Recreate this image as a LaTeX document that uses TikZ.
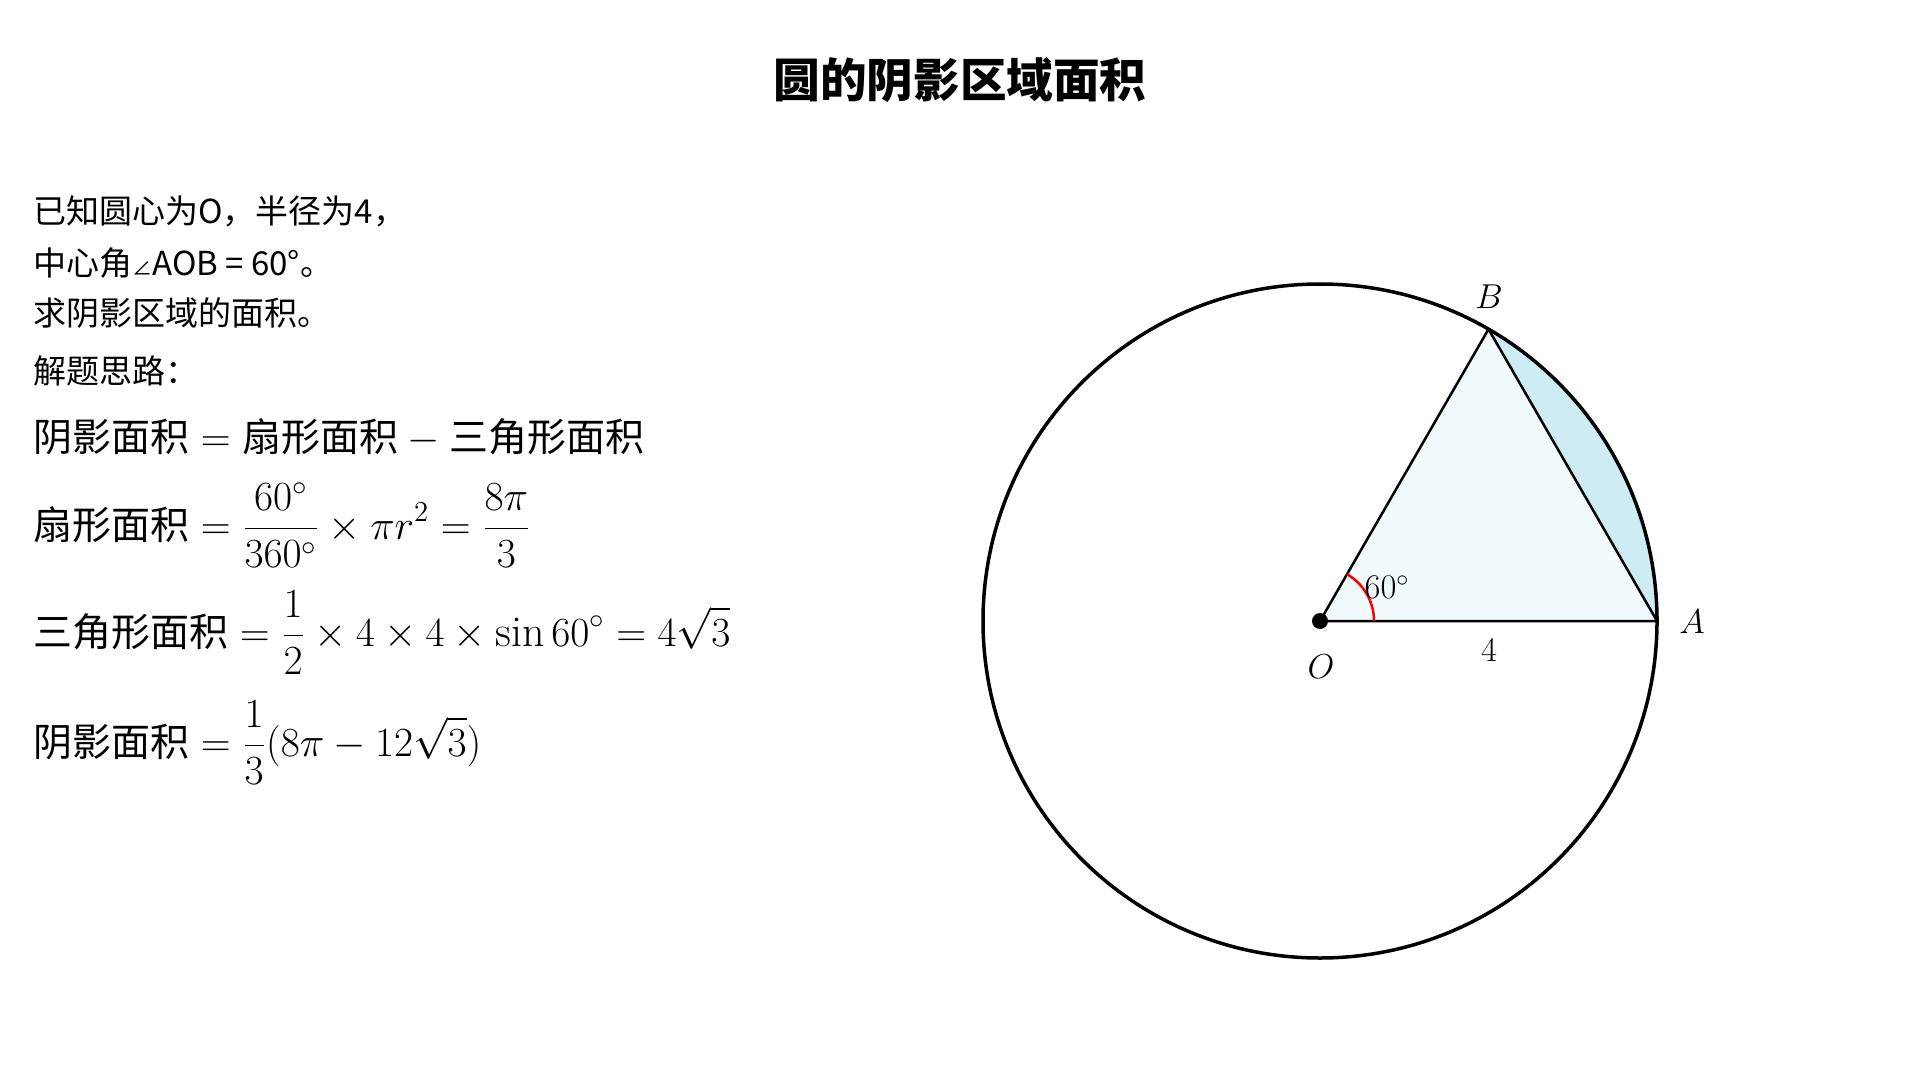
\documentclass[tikz,border=0pt]{standalone}
\usepackage{fontspec}
\usepackage{amsmath}
\usetikzlibrary{calc}
\newfontfamily\cjk{Noto Sans CJK SC}
\newcommand{\zh}[1]{\text{\cjk\fontsize{19.5pt}{23pt}\selectfont #1}}
\definecolor{segfill}{RGB}{205,236,243}
\definecolor{trifill}{RGB}{241,250,253}
\tikzset{
  titletxt/.style={inner sep=0pt, anchor=base, font=\cjk\bfseries\fontsize{23.3pt}{28pt}\selectfont},
  bodytxt/.style={inner sep=0pt, anchor=base west, font=\cjk\fontsize{16.5pt}{19pt}\selectfont},
  mathtxt/.style={inner sep=0pt, anchor=base west, font=\fontsize{22pt}{26pt}\selectfont},
  ptlabel/.style={inner sep=0pt, font=\fontsize{19pt}{23pt}\selectfont},
  smalllabel/.style={inner sep=0pt, font=\fontsize{17pt}{21pt}\selectfont},
  circleline/.style={line width=1.75pt, draw=black},
  edgeline/.style={line width=1.25pt, draw=black, line join=round},
  anglemark/.style={line width=1.25pt, draw=red},
}
\begin{document}
\begin{tikzpicture}[x=0.5pt,y=-0.5pt]
\useasboundingbox (0,0) rectangle (1920,1080);
\fill[white] (0,0) rectangle (1920,1080);

% title
\node[titletxt] (title) at (960,98) {圆的阴影区域面积};

% problem text
\node[bodytxt] (t1) at (33,224) {已知圆心为O，半径为4，};
\node[bodytxt] (t2) at (33,276) {中心角{\fontsize{10pt}{12pt}\selectfont ∠}AOB = 60°。};
\node[bodytxt] (t3) at (33,326) {求阴影区域的面积。};
\node[bodytxt] (t4) at (33,383) {解题思路：};

% formulas
\node[mathtxt] (m1) at (33,451) {$\zh{阴影面积} = \zh{扇形面积} - \zh{三角形面积}$};
\node[mathtxt] (m2) at (33,539) {$\displaystyle \zh{扇形面积} = \frac{60^\circ}{360^\circ}\times \pi r^2 = \frac{8\pi}{3}$};
\node[mathtxt] (m3) at (33,646) {$\displaystyle \zh{三角形面积} = \frac{1}{2}\times 4\times 4\times \sin 60^\circ = 4\sqrt{3}$};
\node[mathtxt] (m4) at (33,756) {$\displaystyle \zh{阴影面积} = \frac{1}{3}(8\pi - 12\sqrt{3})$};

% geometry
\coordinate (O) at (1320,621);
\coordinate (A) at (1657,621);
\coordinate (B) at (1488.5,329.15);
\coordinate (M) at (1374,621);

\fill[trifill] (O) -- (A) -- (B) -- cycle;
\fill[segfill] (A) arc[start angle=0, end angle=60, radius=168.5pt] -- cycle;
\draw[circleline] (O) circle[radius=168.5pt];
\draw[edgeline] (O) -- (A) -- (B) -- cycle;
\draw[anglemark] (M) arc[start angle=0, end angle=60, radius=27pt];
\fill[black] (O) circle[radius=4pt];

\node[ptlabel] (Olab) at (1321,667) {$O$};
\node[ptlabel] (Alab) at (1692,622) {$A$};
\node[ptlabel] (Blab) at (1489,297) {$B$};
\node[smalllabel] (anglab) at (1387,587) {$60^\circ$};
\node[smalllabel] (rlab) at (1489,650) {$4$};
\end{tikzpicture}
\end{document}
